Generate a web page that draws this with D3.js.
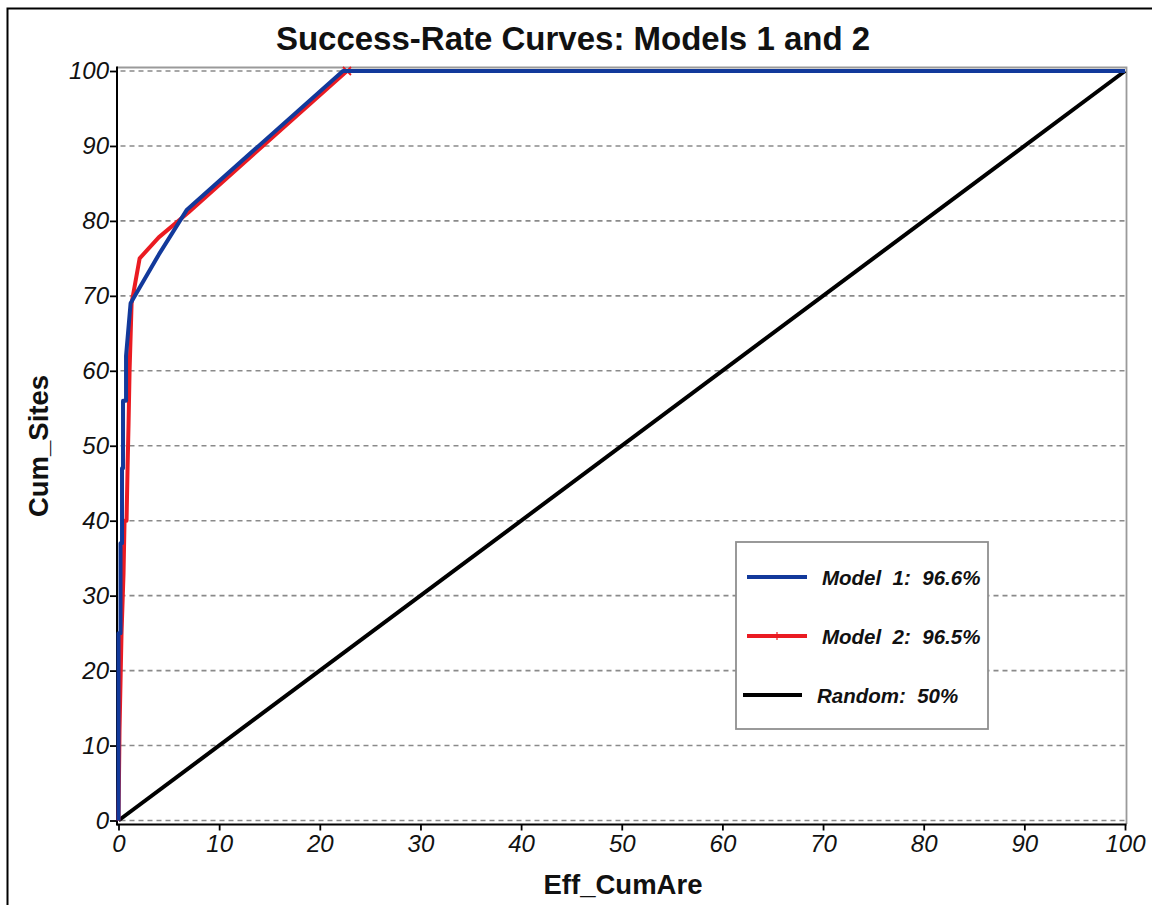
<!DOCTYPE html>
<html>
<head>
<meta charset="utf-8">
<script src="https://cdn.jsdelivr.net/npm/d3@7"></script>
<style>
  html, body { margin: 0; padding: 0; background: #fff; }
  svg { display: block; font-family: "Liberation Sans", Arial, sans-serif; }
</style>
</head>
<body>
<svg id="chart" width="1152" height="905"></svg>
<script>
// Success-rate curves: cumulative share of sites vs. effective cumulative area
const model1X = [0, 0, 0.2, 0.2, 0.35, 0.35, 0.45, 0.45, 0.75, 0.75, 1.2, 4.0, 6.8, 22.3, 100];
const model1Y = [0, 25, 25, 37, 37, 47, 47, 56, 56, 62, 69, 75.5, 81.5, 100, 100];

const model2X = [0, 0.1, 0.3, 0.5, 0.6, 0.8, 0.9, 1.0, 1.1, 1.3, 2.1, 4.0, 7.0, 22.7, 100];
const model2Y = [0, 12, 25, 33, 40, 40, 47, 53, 60, 69, 75, 77.8, 81.2, 100, 100];

const randomX = [0, 100];
const randomY = [0, 100];

const xTicks = [0, 10, 20, 30, 40, 50, 60, 70, 80, 90, 100];
const yTicks = [0, 10, 20, 30, 40, 50, 60, 70, 80, 90, 100];

const legendLabels = ["Model  1:  96.6%", "Model  2:  96.5%", "Random:  50%"];
const seriesColors = ["#12399b", "#ea1b22", "#000000"];

const svg = d3.select("#chart");

const x = d3.scaleLinear().domain([0, 100]).range([118.5, 1125]);
const y = d3.scaleLinear().domain([0, 100]).range([820.5, 71]);

// page border (top and left edges)
svg.append("path")
  .attr("d", "M7.5,905 L7.5,8.5 L1152,8.5")
  .attr("fill", "none").attr("stroke", "#000").attr("stroke-width", 2);

// title
svg.append("text")
  .attr("x", 573).attr("y", 50)
  .attr("text-anchor", "middle")
  .attr("font-weight", "bold").attr("font-size", 33)
  .attr("fill", "#111")
  .text("Success-Rate Curves: Models 1 and 2");

// horizontal dashed grid
svg.append("g").selectAll("line").data(yTicks).join("line")
  .attr("x1", x(0) + 2).attr("x2", x(100))
  .attr("y1", d => y(d)).attr("y2", d => y(d))
  .attr("stroke", "#8a8a8a").attr("stroke-width", 1.6)
  .attr("stroke-dasharray", "5,4");

// plot frame: top and right edges in grey
svg.append("path")
  .attr("d", `M${x(0) - 1.5},67.5 L${x(100) + 1.5},67.5 L${x(100) + 1.5},824`)
  .attr("fill", "none").attr("stroke", "#9a9a9a").attr("stroke-width", 1.8);

// axes
const xAxis = d3.axisBottom(x).tickValues(xTicks).tickSize(6).tickSizeOuter(0).tickPadding(4);
const gx = svg.append("g").attr("transform", "translate(0,824.5)").call(xAxis);
gx.select(".domain").attr("stroke", "#000").attr("stroke-width", 2)
  .attr("d", `M${x(0) - 1.5},0H${x(100) + 1.5}`);
gx.selectAll(".tick line").attr("stroke", "#000").attr("stroke-width", 1.8);
gx.selectAll(".tick text")
  .attr("font-size", 24).attr("font-style", "italic").attr("fill", "#111")
  .attr("font-family", "Liberation Sans, Arial, sans-serif");

const yAxis = d3.axisLeft(y).tickValues(yTicks).tickSize(7).tickSizeOuter(0).tickPadding(1);
const gy = svg.append("g").attr("transform", "translate(117,0)").call(yAxis);
gy.select(".domain").attr("stroke", "#000").attr("stroke-width", 2)
  .attr("d", "M0,66.5V825.5");
gy.selectAll(".tick line").attr("stroke", "#000").attr("stroke-width", 1.8);
gy.selectAll(".tick text")
  .attr("font-size", 24).attr("font-style", "italic").attr("fill", "#111")
  .attr("font-family", "Liberation Sans, Arial, sans-serif");

// axis titles
svg.append("text")
  .attr("x", 623).attr("y", 894)
  .attr("text-anchor", "middle")
  .attr("font-weight", "bold").attr("font-size", 27.5)
  .attr("fill", "#111")
  .text("Eff_CumAre");

svg.append("text")
  .attr("transform", "translate(48,446) rotate(-90)")
  .attr("text-anchor", "middle")
  .attr("font-weight", "bold").attr("font-size", 27.5)
  .attr("fill", "#111")
  .text("Cum_Sites");

// curves
const line = d3.line().x(d => x(d[0])).y(d => y(d[1]));
const zip = (xs, ys) => xs.map((v, i) => [v, ys[i]]);

const plot = svg.append("g");
plot.append("path").datum(zip(randomX, randomY))
  .attr("d", line).attr("fill", "none")
  .attr("stroke", seriesColors[2]).attr("stroke-width", 4);

const m2 = zip(model2X, model2Y);
plot.append("path").datum(m2)
  .attr("d", line).attr("fill", "none")
  .attr("stroke", seriesColors[1]).attr("stroke-width", 4)
  .attr("stroke-linejoin", "round");

// small cross markers on the model 2 curve where it reaches the top
plot.append("g").selectAll("path").data(m2.filter(d => d[1] === 100 && d[0] < 50)).join("path")
  .attr("d", d => {
    const cx = x(d[0]), cy = y(d[1]);
    return `M${cx - 4},${cy - 4}L${cx + 4},${cy + 4}M${cx - 4},${cy + 4}L${cx + 4},${cy - 4}`;
  })
  .attr("stroke", seriesColors[1]).attr("stroke-width", 1.8);

plot.append("path").datum(zip(model1X, model1Y))
  .attr("d", line).attr("fill", "none")
  .attr("stroke", seriesColors[0]).attr("stroke-width", 4)
  .attr("stroke-linejoin", "round");

// legend
const legend = svg.append("g");
legend.append("rect")
  .attr("x", 736).attr("y", 542).attr("width", 252).attr("height", 187)
  .attr("fill", "#fff").attr("stroke", "#8f8f8f").attr("stroke-width", 1.8);

const legendRows = [
  { y: 577, x1: 747, x2: 807, tx: 822 },
  { y: 636, x1: 747, x2: 807, tx: 822 },
  { y: 695, x1: 743, x2: 802, tx: 817 }
];
legendRows.forEach((r, i) => {
  legend.append("line")
    .attr("x1", r.x1).attr("x2", r.x2).attr("y1", r.y).attr("y2", r.y)
    .attr("stroke", seriesColors[i]).attr("stroke-width", 4);
  if (i === 1) {
    legend.append("line")
      .attr("x1", (r.x1 + r.x2) / 2).attr("x2", (r.x1 + r.x2) / 2)
      .attr("y1", r.y - 4).attr("y2", r.y + 4)
      .attr("stroke", seriesColors[1]).attr("stroke-width", 1.2);
  }
  legend.append("text")
    .attr("x", r.tx).attr("y", r.y + 7.5)
    .attr("xml:space", "preserve")
    .style("white-space", "pre")
    .attr("font-size", 20.5).attr("font-weight", "bold").attr("font-style", "italic")
    .attr("fill", "#111")
    .text(legendLabels[i]);
});
</script>
</body>
</html>
